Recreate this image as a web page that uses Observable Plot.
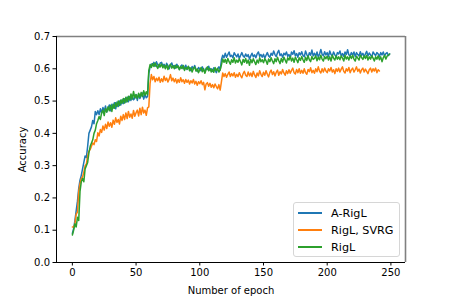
<!DOCTYPE html>
<html><head><meta charset="utf-8">
<script src="https://cdn.jsdelivr.net/npm/d3@7"></script>
<script src="https://cdn.jsdelivr.net/npm/@observablehq/plot@0.6"></script>
<style>
body{margin:0;background:#fff;font-family:"DejaVu Sans",sans-serif;}
#wrap{position:relative;width:450px;height:300px;}
#legend{position:absolute;left:293px;top:202px;width:105px;height:53px;border:1px solid #d6d6d6;border-radius:3px;background:rgba(255,255,255,0.8);font:11.2px "DejaVu Sans",sans-serif;color:#000;}
.row{position:absolute;left:4px;height:12px;display:flex;align-items:center;white-space:nowrap;}
.sw{width:24px;height:1.6px;margin-right:9px;flex:none;}
</style>
</head><body>
<div id="wrap"></div>
<script>
const seriesNames = ["A-RigL", "RigL, SVRG", "RigL"];
const seriesColors = ["#1f77b4", "#ff7f0e", "#2ca02c"];
const yTicks = [0, 0.1, 0.2, 0.3, 0.4, 0.5, 0.6, 0.7];
const xTicks = [0, 50, 100, 150, 200, 250];

const aRigL = [
0.090,0.105,0.130,0.160,0.190,0.230,0.255,0.270,0.290,0.310,
0.330,0.325,0.360,0.400,0.410,0.420,0.440,0.430,0.468,0.458,
0.470,0.458,0.476,0.463,0.480,0.468,0.485,0.466,0.478,0.488,
0.470,0.490,0.478,0.495,0.476,0.497,0.483,0.500,0.488,0.504,
0.492,0.507,0.496,0.512,0.498,0.514,0.502,0.518,0.504,0.509,
0.520,0.502,0.522,0.508,0.517,0.525,0.506,0.520,0.510,0.514,
0.585,0.606,0.615,0.610,0.620,0.608,0.622,0.612,0.605,0.618,
0.620,0.608,0.614,0.603,0.617,0.610,0.600,0.612,0.618,0.606,
0.610,0.602,0.614,0.606,0.598,0.608,0.612,0.600,0.604,0.611,
0.598,0.606,0.603,0.594,0.607,0.600,0.610,0.598,0.592,0.604,
0.600,0.594,0.606,0.597,0.590,0.602,0.598,0.608,0.595,0.600,
0.592,0.603,0.597,0.588,0.600,0.606,0.596,0.628,0.642,0.634,
0.648,0.636,0.644,0.652,0.638,0.642,0.634,0.650,0.643,0.637,
0.646,0.632,0.641,0.650,0.640,0.636,0.646,0.638,0.644,0.630,
0.640,0.648,0.637,0.643,0.634,0.646,0.652,0.639,0.644,0.636,
0.645,0.633,0.642,0.650,0.640,0.636,0.648,0.642,0.655,0.644,
0.638,0.650,0.657,0.641,0.646,0.636,0.648,0.643,0.652,0.639,
0.644,0.634,0.652,0.645,0.656,0.640,0.647,0.636,0.650,0.643,
0.653,0.641,0.637,0.655,0.644,0.636,0.650,0.642,0.658,0.640,
0.648,0.639,0.652,0.636,0.646,0.660,0.645,0.640,0.653,0.643,
0.650,0.638,0.655,0.644,0.640,0.652,0.643,0.637,0.650,0.646,
0.655,0.640,0.647,0.638,0.652,0.644,0.659,0.643,0.640,0.650,
0.642,0.652,0.638,0.650,0.644,0.640,0.653,0.642,0.648,0.637,
0.646,0.654,0.640,0.649,0.643,0.636,0.652,0.646,0.641,0.650,
0.646,0.638,0.650,0.643,0.652,0.640,0.647,0.650,0.641,0.646];

const rigLSvrg = [
0.110,0.110,0.120,0.150,0.156,0.220,0.244,0.260,0.265,0.280,
0.300,0.305,0.330,0.345,0.350,0.360,0.370,0.365,0.380,0.375,
0.402,0.392,0.412,0.403,0.423,0.410,0.428,0.415,0.435,0.422,
0.433,0.419,0.441,0.428,0.448,0.434,0.443,0.429,0.453,0.440,
0.458,0.443,0.463,0.446,0.468,0.450,0.460,0.447,0.471,0.453,
0.464,0.472,0.454,0.478,0.458,0.481,0.463,0.472,0.456,0.479,
0.482,0.555,0.582,0.566,0.576,0.560,0.571,0.563,0.574,0.558,
0.569,0.560,0.577,0.564,0.571,0.559,0.568,0.582,0.563,0.571,
0.560,0.569,0.556,0.567,0.558,0.572,0.560,0.566,0.555,0.567,
0.558,0.565,0.553,0.563,0.556,0.567,0.553,0.561,0.549,0.560,
0.554,0.563,0.551,0.558,0.535,0.553,0.557,0.546,0.555,0.543,
0.551,0.541,0.553,0.545,0.538,0.551,0.534,0.560,0.587,0.576,
0.585,0.574,0.583,0.590,0.576,0.585,0.578,0.588,0.574,0.583,
0.576,0.588,0.579,0.572,0.585,0.592,0.580,0.576,0.590,0.578,
0.587,0.576,0.592,0.581,0.573,0.587,0.578,0.594,0.583,0.576,
0.589,0.580,0.594,0.583,0.575,0.589,0.596,0.582,0.591,0.578,
0.589,0.596,0.580,0.591,0.584,0.598,0.587,0.580,0.594,0.585,
0.597,0.586,0.595,0.602,0.588,0.584,0.598,0.588,0.600,0.586,
0.595,0.586,0.600,0.588,0.583,0.598,0.591,0.603,0.588,0.595,
0.586,0.600,0.591,0.606,0.593,0.587,0.600,0.590,0.602,0.593,
0.588,0.600,0.593,0.604,0.590,0.597,0.585,0.600,0.592,0.602,
0.590,0.599,0.606,0.592,0.587,0.600,0.593,0.604,0.588,0.597,
0.602,0.590,0.597,0.606,0.592,0.599,0.587,0.597,0.602,0.590,
0.599,0.592,0.585,0.597,0.602,0.590,0.600,0.593,0.602,0.588,
0.597,0.593];

const rigL = [
0.085,0.100,0.120,0.110,0.140,0.130,0.220,0.250,0.260,0.250,
0.290,0.300,0.310,0.340,0.360,0.370,0.380,0.400,0.410,0.430,
0.440,0.452,0.443,0.464,0.472,0.455,0.477,0.466,0.482,0.470,
0.487,0.468,0.490,0.478,0.495,0.483,0.500,0.486,0.503,0.493,
0.508,0.494,0.512,0.498,0.515,0.503,0.522,0.506,0.530,0.510,
0.520,0.508,0.524,0.512,0.527,0.514,0.532,0.518,0.529,0.520,
0.595,0.613,0.604,0.616,0.607,0.618,0.609,0.601,0.614,0.606,
0.615,0.603,0.611,0.600,0.612,0.598,0.608,0.614,0.602,0.609,
0.600,0.611,0.603,0.609,0.597,0.607,0.601,0.610,0.595,0.604,
0.599,0.608,0.594,0.603,0.590,0.601,0.606,0.593,0.600,0.588,
0.597,0.604,0.591,0.600,0.586,0.598,0.606,0.594,0.601,0.590,
0.598,0.589,0.604,0.594,0.601,0.590,0.597,0.612,0.630,0.620,
0.629,0.617,0.632,0.622,0.614,0.628,0.620,0.634,0.618,0.627,
0.620,0.631,0.622,0.612,0.629,0.620,0.632,0.617,0.627,0.611,
0.629,0.619,0.631,0.622,0.613,0.627,0.618,0.634,0.622,0.628,
0.619,0.631,0.625,0.614,0.630,0.622,0.634,0.624,0.616,0.631,
0.622,0.636,0.625,0.616,0.632,0.621,0.636,0.627,0.618,0.634,
0.627,0.638,0.624,0.633,0.620,0.636,0.628,0.619,0.634,0.626,
0.638,0.628,0.620,0.636,0.626,0.640,0.628,0.622,0.638,0.629,
0.632,0.640,0.625,0.636,0.628,0.642,0.630,0.624,0.638,0.631,
0.639,0.627,0.637,0.624,0.642,0.633,0.627,0.640,0.630,0.637,
0.628,0.640,0.633,0.624,0.642,0.630,0.637,0.627,0.640,0.632,
0.642,0.630,0.624,0.639,0.633,0.627,0.642,0.635,0.629,0.640,
0.632,0.642,0.627,0.637,0.630,0.640,0.633,0.624,0.637,0.630,
0.640,0.628,0.637,0.622,0.634,0.642,0.630,0.639,0.642,0.646];

const allSeries = [aRigL, rigLSvrg, rigL];
const data = allSeries.flatMap((arr, si) => arr.map((v, i) => ({epoch: i, acc: v, series: seriesNames[si]})));

const chart = Plot.plot({
  width: 450, height: 300,
  marginLeft: 56, marginRight: 45, marginTop: 36, marginBottom: 38,
  style: {fontFamily: "DejaVu Sans", fontSize: "10px", color: "#000", background: "#fff"},
  x: {domain: [-12.45, 261.45]},
  y: {domain: [0, 0.7]},
  color: {domain: seriesNames, range: seriesColors},
  marks: [
    Plot.axisX({ticks: xTicks, tickSize: 3.5, tickPadding: 3, label: "Number of epoch", labelAnchor: "center", labelArrow: "none", labelOffset: 31, fontSize: 10}),
    Plot.axisY({ticks: yTicks, tickFormat: ".1f", tickSize: 3.5, tickPadding: 3, label: "Accuracy", labelAnchor: "center", labelArrow: "none", labelOffset: 38, fontSize: 10}),
    Plot.line(data, {x: "epoch", y: "acc", z: "series", stroke: "series", strokeWidth: 1.5}),
    Plot.ruleY([0.7], {stroke: "#808080", strokeWidth: 1.6}),
    Plot.ruleX([261.45], {stroke: "#808080", strokeWidth: 1.6}),
    Plot.ruleX([-12.45], {stroke: "#000", strokeWidth: 1}),
    Plot.ruleY([0], {stroke: "#000", strokeWidth: 1})
  ]
});
const wrap = document.getElementById("wrap");
wrap.appendChild(chart);

const legend = document.createElement("div");
legend.id = "legend";
seriesNames.forEach((name, i) => {
  const row = document.createElement("div");
  row.className = "row";
  row.style.top = (4 + i * 17) + "px";
  const sw = document.createElement("span");
  sw.className = "sw";
  sw.style.background = seriesColors[i];
  const t = document.createElement("span");
  t.textContent = name;
  row.appendChild(sw); row.appendChild(t);
  legend.appendChild(row);
});
wrap.appendChild(legend);
</script>
</body></html>
